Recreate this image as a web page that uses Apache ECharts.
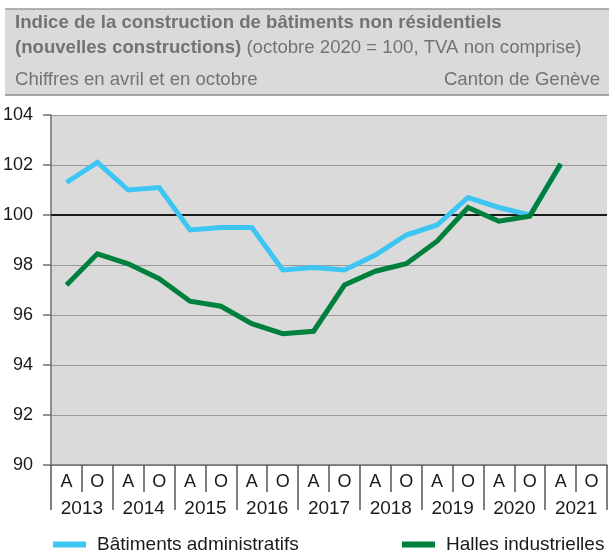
<!DOCTYPE html>
<html style="height: 100%">
<head>
	<meta charset="utf-8">
	<title></title>
	<script type="text/javascript" src="https://cdn.jsdelivr.net/npm/echarts@6/dist/echarts.min.js"></script>
	<script type="text/javascript">
		// semestres : avril (A) et octobre (O)
		var periodes = ['A','O','A','O','A','O','A','O','A','O','A','O','A','O','A','O','A','O'];
		var annees = ['2013','2014','2015','2016','2017','2018','2019','2020','2021'];
		var administratifs = [101.3, 102.1, 101.0, 101.1, 99.4, 99.5, 99.5, 97.8, 97.9, 97.8, 98.4, 99.2, 99.6, 100.7, 100.3, 100.0, 102.0];
		var industrielles = [97.2, 98.45, 98.05, 97.45, 96.55, 96.35, 95.65, 95.25, 95.35, 97.2, 97.75, 98.05, 98.95, 100.3, 99.75, 99.95, 102.05];
		var yTicks = [90, 92, 94, 96, 98, 100, 102, 104];

		window.onload = function(){
			var dom = document.getElementById("container");
			var myChart = echarts.init(dom);
			var font = 'Liberation Sans, Arial, sans-serif';
			var grisTexte = '#737373';

			var option = {
				animation: false,
				textStyle: {fontFamily: font},
				graphic: [
					{type: 'rect', shape: {x: 5, y: 9, width: 604, height: 86}, style: {fill: '#DADADA'}, z: -1},
					{type: 'line', shape: {x1: 5, y1: 9, x2: 609, y2: 9}, style: {stroke: '#9a9a9a', lineWidth: 1.5}},
					{type: 'line', shape: {x1: 5, y1: 95, x2: 609, y2: 95}, style: {stroke: '#8a8a8a', lineWidth: 1.5}}
				],
				title: [
					{
						left: 10, top: 5,
						text: '{b|Indice de la construction de bâtiments non résidentiels}\n{b|(nouvelles constructions)}{n| (octobre 2020 = 100, TVA non comprise)}',
						textStyle: {
							fontWeight: 'normal',
							rich: {
								b: {fontFamily: font, fontSize: 18.6, fontWeight: 'bold', color: grisTexte, lineHeight: 25},
								n: {fontFamily: font, fontSize: 18.6, fontWeight: 'normal', color: grisTexte, lineHeight: 25}
							}
						}
					},
					{
						left: 10, top: 65,
						text: 'Chiffres en avril et en octobre',
						textStyle: {fontFamily: font, fontSize: 18.6, fontWeight: 'normal', color: grisTexte}
					},
					{
						right: 4, top: 65,
						text: 'Canton de Genève',
						textStyle: {fontFamily: font, fontSize: 18.6, fontWeight: 'normal', color: grisTexte}
					}
				],
				legend: [
					{
						data: ['Bâtiments administratifs'],
						left: 48, top: 530,
						icon: 'rect', itemWidth: 33, itemHeight: 6,
						textStyle: {fontFamily: font, fontSize: 19, color: '#1a1a1a', padding: [0, 0, 0, 6]}
					},
					{
						data: ['Halles industrielles'],
						left: 397, top: 530,
						icon: 'rect', itemWidth: 33, itemHeight: 6,
						textStyle: {fontFamily: font, fontSize: 19, color: '#1a1a1a', padding: [0, 0, 0, 6]}
					}
				],
				grid: {
					left: 51, right: 2, top: 115, bottom: 87,
					show: true, backgroundColor: '#DADADA', borderWidth: 0
				},
				xAxis: [
					{
						type: 'category',
						data: periodes,
						boundaryGap: true,
						axisLine: {lineStyle: {color: '#6f6f6f', width: 1.5}},
						axisTick: {show: true, interval: 0, length: 27, lineStyle: {color: '#555', width: 1.5}},
						axisLabel: {interval: 0, margin: 8, fontSize: 18, color: '#1a1a1a', fontFamily: font}
					},
					{
						type: 'category',
						data: annees,
						position: 'bottom',
						boundaryGap: true,
						axisLine: {show: false},
						axisTick: {show: true, interval: 0, length: 45, lineStyle: {color: '#555', width: 1.5}},
						axisLabel: {interval: 0, margin: 34, fontSize: 19, color: '#1a1a1a', fontFamily: font}
					}
				],
				yAxis: {
					type: 'value',
					min: 90, max: 104, interval: 2,
					axisLine: {show: true, lineStyle: {color: '#6f6f6f', width: 1.5}},
					axisTick: {show: true, length: 8, lineStyle: {color: '#6f6f6f', width: 1.5}},
					axisLabel: {
						margin: 18, fontSize: 18, color: '#1a1a1a', fontFamily: font,
						formatter: function(v){ return yTicks.indexOf(v) >= 0 ? String(v) : ''; }
					},
					splitLine: {show: true, lineStyle: {color: '#9a9a9a', width: 1.2}}
				},
				series: [
					{
						name: 'Bâtiments administratifs',
						type: 'line',
						data: administratifs,
						symbol: 'none',
						color: '#3DC6F4',
						lineStyle: {width: 5, color: '#3DC6F4', join: 'miter'},
						markLine: {
							silent: true,
							symbol: 'none',
							label: {show: false},
							lineStyle: {color: '#1a1a1a', width: 2, type: 'solid'},
							data: [{yAxis: 100}],
							z: 1
						}
					},
					{
						name: 'Halles industrielles',
						type: 'line',
						data: industrielles,
						symbol: 'none',
						color: '#00803D',
						lineStyle: {width: 5, color: '#00803D', join: 'miter'}
					}
				]
			};
			myChart.setOption(option);
		};
	</script>
</head>
<body style="height: 100%; margin: 0; background: #fff">
<div id="container" style="width: 609px; height: 552px"></div>
</body>
</html>
